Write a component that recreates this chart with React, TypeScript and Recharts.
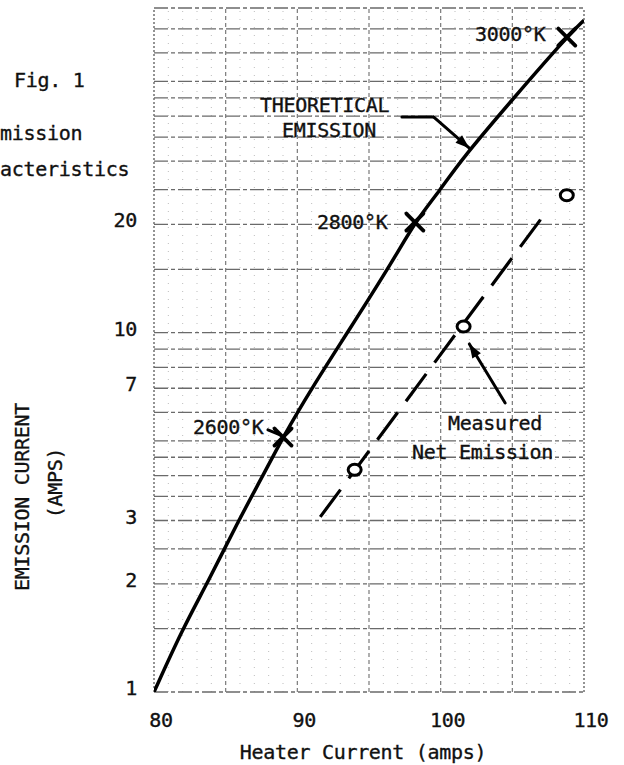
import { ComposedChart, Line, Scatter, XAxis, YAxis, ReferenceLine } from "recharts";

// theoretical emission curve
const theoX = [80, 82, 83.7, 85.9, 87.6, 89, 91, 93.5, 96.7, 98.2, 100, 101.35, 105.1, 108.8, 110];
const theoY = [1, 1.5, 2, 3, 4, 5.12, 7, 10, 15.9, 20.3, 25, 30, 45, 66.4, 74];

// temperature crosses on the theoretical curve
const tempX = [89, 98.2, 108.8];
const tempY = [5.12, 20.3, 66.4];

// measured net emission points and the dashed fit through them
const measX = [94.0, 101.6, 108.8];
const measY = [4.15, 10.4, 24.1];
const fitX = [91.6, 107.3];
const fitY = [3.07, 21.5];

// leader arrows (data coords)
const theoLeaderX = [97.3, 99.5, 102.0];
const theoLeaderY = [39.8, 39.8, 32.6];
const measLeaderX = [104.5, 102.0];
const measLeaderY = [6.37, 9.3];
const k2600LeaderX = [87.95, 88.8];
const k2600LeaderY = [5.36, 5.19];

const xTicks = [80, 90, 100, 110];
const yTicks = [1, 2, 3, 7, 10, 20];
const gridY = [1, 1.5, 2, 2.5, 3, 3.5, 4, 4.5, 5, 6, 7, 8, 9, 10, 15, 20, 25, 30, 35, 40, 45, 50, 60, 70, 80];
const gridXMajor = [85, 90, 95, 100, 105];
const gridXEdge = [80, 110];
const gridXMinor = [81, 82, 83, 84, 86, 87, 88, 89, 91, 92, 93, 94, 96, 97, 98, 99, 101, 102, 103, 104, 106, 107, 108, 109];

const FONT = "'DejaVu Sans Mono', monospace";
const INK = "#111";
const FS = 20;

const theoData = theoX.map((x, i) => ({ x, y: theoY[i] }));
const tempData = tempX.map((x, i) => ({ x, y: tempY[i] }));
const measData = measX.map((x, i) => ({ x, y: measY[i] }));
const fitData = fitX.map((x, i) => ({ x, y: fitY[i] }));

const seg = (xs: number[], ys: number[], i: number) => [
  { x: xs[i], y: ys[i] },
  { x: xs[i + 1], y: ys[i + 1] },
];

const tickStyle = {
  fontSize: FS,
  fontFamily: FONT,
  fill: INK,
  stroke: INK,
  strokeWidth: 0.35,
  letterSpacing: -0.3,
};

const XTick = (p: any) => (
  <text x={p.x + 7} y={p.y} textAnchor="middle" dominantBaseline="central" {...tickStyle}>
    {p.payload.value}
  </text>
);

const YTick = (p: any) => (
  <text x={p.x} y={p.y - 4} textAnchor="end" dominantBaseline="central" {...tickStyle}>
    {p.payload.value}
  </text>
);

const Cross = (p: any) => {
  const s = 8.5;
  return (
    <g stroke="#000" strokeWidth={3.8} strokeLinecap="round">
      <line x1={p.cx - s} y1={p.cy - s} x2={p.cx + s} y2={p.cy + s} />
      <line x1={p.cx - s} y1={p.cy + s} x2={p.cx + s} y2={p.cy - s} />
    </g>
  );
};

const Ring = (p: any) => (
  <ellipse cx={p.cx} cy={p.cy} rx={6.5} ry={5.5} fill="#fff" stroke="#000" strokeWidth={3} />
);

const plainSeg = (p: any) => (
  <line x1={p.x1} y1={p.y1} x2={p.x2} y2={p.y2} stroke="#000" strokeWidth={3} strokeLinecap="round" />
);

const arrowSeg = (p: any) => {
  const { x1, y1, x2, y2 } = p;
  const a = Math.atan2(y2 - y1, x2 - x1);
  const L = 14;
  const W = 5;
  const bx = x2 - L * Math.cos(a);
  const by = y2 - L * Math.sin(a);
  const pts = [
    [x2, y2],
    [bx + W * Math.sin(a), by - W * Math.cos(a)],
    [bx - W * Math.sin(a), by + W * Math.cos(a)],
  ]
    .map((q) => q.join(","))
    .join(" ");
  return (
    <g>
      <line x1={x1} y1={y1} x2={x2} y2={y2} stroke="#000" strokeWidth={3} strokeLinecap="round" />
      <polygon points={pts} fill="#000" />
    </g>
  );
};

export default function App() {
  return (
    <div style={{ position: "absolute", left: 0, top: 0, width: 624, height: 765, background: "#fff" }}>
      <ComposedChart width={624} height={765} margin={{ top: 8, right: 40, bottom: 43, left: 94 }}>
        <XAxis
          type="number"
          dataKey="x"
          domain={[80, 110]}
          ticks={xTicks}
          allowDataOverflow
          height={30}
          tickSize={0}
          tickMargin={28}
          axisLine={false}
          tickLine={false}
          tick={<XTick />}
        />
        <YAxis
          type="number"
          dataKey="y"
          scale="log"
          domain={[1, 80]}
          ticks={yTicks}
          allowDataOverflow
          width={60}
          tickSize={0}
          tickMargin={17}
          axisLine={false}
          tickLine={false}
          tick={<YTick />}
        />

        {gridXMinor.map((v) => (
          <ReferenceLine key={"xm" + v} x={v} stroke="#bdbdbd" strokeWidth={1} strokeDasharray="1 7" />
        ))}
        {gridY.map((v) => (
          <ReferenceLine key={"gy" + v} y={v} stroke="#6a6a6a" strokeWidth={1.3} strokeDasharray="14 3 4 3" />
        ))}
        {gridXMajor.map((v) => (
          <ReferenceLine key={"gx" + v} x={v} stroke="#7a7a7a" strokeWidth={1.2} strokeDasharray="4 3" />
        ))}
        {gridXEdge.map((v) => (
          <ReferenceLine key={"ge" + v} x={v} stroke="#666" strokeWidth={1.4} strokeDasharray="2 2" />
        ))}

        <Line
          data={fitData}
          dataKey="y"
          type="linear"
          stroke="#000"
          strokeWidth={3.2}
          strokeDasharray="34 14"
          dot={false}
          activeDot={false}
          isAnimationActive={false}
        />
        <Line
          data={theoData}
          dataKey="y"
          type="basis"
          stroke="#000"
          strokeWidth={3.5}
          dot={false}
          activeDot={false}
          isAnimationActive={false}
        />
        <Scatter data={tempData} dataKey="y" shape={<Cross />} isAnimationActive={false} />
        <Scatter data={measData} dataKey="y" shape={<Ring />} isAnimationActive={false} />

        <ReferenceLine segment={seg(theoLeaderX, theoLeaderY, 0)} shape={plainSeg} />
        <ReferenceLine segment={seg(theoLeaderX, theoLeaderY, 1)} shape={arrowSeg} />
        <ReferenceLine segment={seg(measLeaderX, measLeaderY, 0)} shape={arrowSeg} />
        <ReferenceLine segment={seg(k2600LeaderX, k2600LeaderY, 0)} shape={plainSeg} />
      </ComposedChart>

      <svg width={624} height={765} style={{ position: "absolute", left: 0, top: 0, pointerEvents: "none" }}>
        <g {...tickStyle}>
          <text x={14} y={87}>Fig. 1</text>
          <text x={0} y={140}>mission</text>
          <text x={0} y={176}>acteristics</text>

          <text x={260} y={112}>THEORETICAL</text>
          <text x={282} y={137}>EMISSION</text>
          <text x={475} y={41}>3000°K</text>
          <text x={317} y={229}>2800°K</text>
          <text x={193} y={434}>2600°K</text>
          <text x={448} y={430}>Measured</text>
          <text x={412} y={459}>Net Emission</text>

          <text x={363} y={759} textAnchor="middle">Heater Current (amps)</text>
          <text x={22} y={497} textAnchor="middle" dominantBaseline="central" transform="rotate(-90 22 497)">
            EMISSION CURRENT
          </text>
          <text x={55} y={483} textAnchor="middle" dominantBaseline="central" transform="rotate(-90 55 483)">
            (AMPS)
          </text>
        </g>
      </svg>
    </div>
  );
}
